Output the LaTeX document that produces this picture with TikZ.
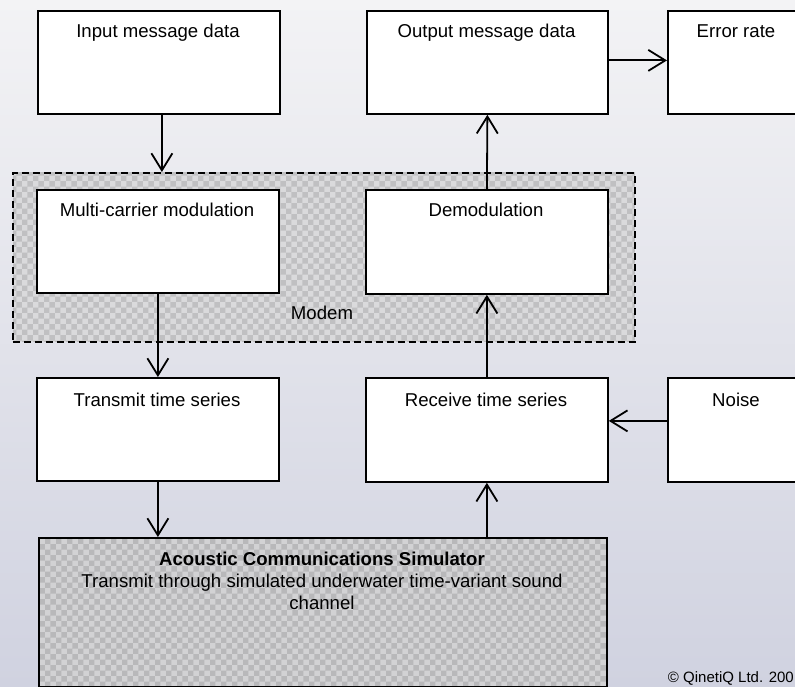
\documentclass[tikz,border=0pt]{standalone}
\usepackage{fontspec}
\setmainfont{Liberation Sans}
\usetikzlibrary{arrows.meta,patterns}
\definecolor{bgtop}{RGB}{243,243,245}
\definecolor{bgbot}{RGB}{208,210,224}
\definecolor{hatchlight}{RGB}{218,218,220}
\definecolor{hatchdark}{RGB}{192,192,194}
\definecolor{simlight}{RGB}{210,210,212}
\definecolor{simdark}{RGB}{184,184,186}
\tikzset{
  box/.style={draw=black, line width=1.8pt, fill=white, rectangle, inner sep=0pt, anchor=north west},
  hatchbox/.style={draw=black, line width=1.8pt, rectangle, inner sep=0pt, anchor=north west,
     preaction={fill=hatchlight}, preaction={pattern=checkerboard, pattern color=hatchdark}},
  simbox/.style={draw=black, line width=1.8pt, rectangle, inner sep=0pt, anchor=north west,
     preaction={fill=simlight}, preaction={pattern=checkerboard, pattern color=simdark}},
  txt/.style={font=\fontsize{18.6pt}{22pt}\selectfont, inner sep=0pt, anchor=base},
  arr/.style={line width=1.8pt, -{Straight Barb[length=17pt,width=21pt,line width=1.8pt]}}
}
\begin{document}
\begin{tikzpicture}[x=1pt,y=-1pt]
\useasboundingbox (0,0) rectangle (795,687);
\clip (0,0) rectangle (795,687);
\shade[top color=bgtop, bottom color=bgbot] (0,0) rectangle (795,687);

% Modem dashed region
\node[hatchbox, dash pattern=on 7pt off 4pt, minimum width=622pt, minimum height=169pt] (mod) at (12,172) {};
\node[txt] (modlbl) at (322,319) {Modem};

% boxes
\node[box, minimum width=242pt, minimum height=103pt] (in) at (37,10) {};
\node[box, minimum width=241pt, minimum height=103pt] (out) at (366,10) {};
\node[box, minimum width=140pt, minimum height=103pt] (err) at (667,10) {};
\node[box, minimum width=242pt, minimum height=103pt] (mc) at (36,189) {};
\node[box, minimum width=242pt, minimum height=104pt] (dem) at (365,189) {};
\node[box, minimum width=242pt, minimum height=103pt] (tx) at (36,377) {};
\node[box, minimum width=242pt, minimum height=104pt] (rx) at (365,377) {};
\node[box, minimum width=140pt, minimum height=104pt] (noise) at (667,377) {};
\node[simbox, minimum width=568pt, minimum height=149pt] (sim) at (38,537) {};

% labels
\node[txt] (tin) at (158,38) {Input message data};
\node[txt] (tout) at (486.5,38) {Output message data};
\node[txt] (terr) at (736,38) {Error rate};
\node[txt] (tmc) at (157,217) {Multi-carrier modulation};
\node[txt] (tdem) at (486,217) {Demodulation};
\node[txt] (ttx) at (157,406) {Transmit time series};
\node[txt] (trx) at (486,406) {Receive time series};
\node[txt] (tnoise) at (736,406) {Noise};
\node[txt, anchor=north, align=center] (tsim) at (322,551.5)
  {\textbf{Acoustic Communications Simulator}\\Transmit through simulated underwater time-variant sound\\channel};
\node[font=\fontsize{15pt}{18pt}\selectfont, inner sep=0pt, anchor=base east] (copy) at (794,682) {© QinetiQ Ltd. 200};

% connectors
\draw[arr] ([xshift=3pt]in.south) -- ([xshift=3pt]in.south |- mod.north);
\draw[arr] (mc.south) -- (tx.north);
\draw[arr] (tx.south) -- (tx.south |- sim.north);
\draw[arr] (rx.south |- sim.north) -- (rx.south);
\draw[arr] (rx.north) -- (dem.south);
\draw[arr] (dem.north) -- (out.south);
\draw[arr] ([yshift=9pt]noise.west) -- ([yshift=9pt]rx.east);
\draw[arr] ([yshift=2pt]out.east) -- ([yshift=2pt]err.west);
\end{tikzpicture}
\end{document}
